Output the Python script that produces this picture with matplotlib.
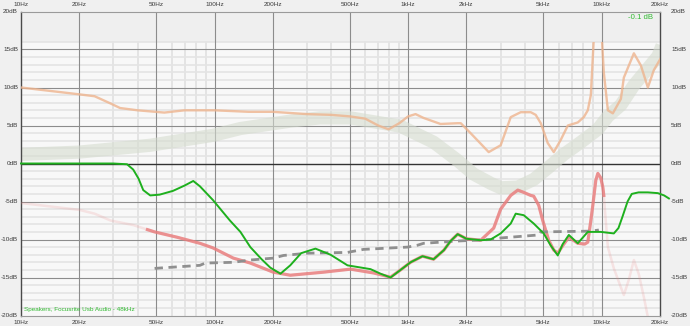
import numpy as np
import matplotlib
matplotlib.use("Agg")
import matplotlib.pyplot as plt
from matplotlib.patches import Rectangle

# ---------------- data ----------------
freq_ticks = [10, 20, 50, 100, 200, 500, 1000, 2000, 5000, 10000, 20000]
freq_labels = ["10Hz", "20Hz", "50Hz", "100Hz", "200Hz", "500Hz", "1kHz", "2kHz", "5kHz", "10kHz", "20kHz"]
db_ticks = [20, 15, 10, 5, 0, -5, -10, -15, -20]
db_labels = ["20dB", "15dB", "10dB", "5dB", "0dB", "-5dB", "-10dB", "-15dB", "-20dB"]

band_f = [10, 20, 46.5, 98, 136, 250, 350, 504, 914, 1353, 1802, 2180, 2668, 3006, 3684,
          4453, 5260, 6370, 7798, 9549, 10760, 12560, 14660, 17310, 19500, 20500]
band_db = [1.2, 1.5, 2.4, 3.7, 4.6, 5.6, 6.0, 6.0, 4.9, 2.8, 0.4, -1.4, -2.6, -3.2, -3.1,
           -2.1, -0.6, 1.2, 2.8, 4.5, 6.2, 7.7, 10.3, 12.5, 14.1, 15.5]

orange_f = [10, 20, 24, 29, 32.5, 40, 55, 70, 100, 150, 200, 300, 400, 500, 600, 700, 792,
            900, 1000, 1092, 1200, 1470, 1800, 1870, 2100, 2371, 2607, 3006, 3388, 3815,
            4297, 4560, 4844, 5260, 5652, 6140, 6683, 7521, 8080, 8472, 8785, 9101, 9400,
            9887, 10250, 10760, 11410, 12560, 13010, 14660, 15930, 17310, 18600, 20230]
orange_db = [10.0, 9.1, 8.85, 7.9, 7.3, 7.0, 6.7, 7.0, 7.0, 6.8, 6.8, 6.5, 6.4, 6.2, 5.9, 5.0, 4.5,
             5.3, 6.2, 6.5, 6.0, 5.2, 5.3, 5.3, 4.0, 2.6, 1.5, 2.4, 6.1, 6.75,
             6.75, 6.4, 5.3, 2.7, 1.5, 3.1, 5.0, 5.4, 6.1, 7.0, 9.0, 16.5, 19.0,
             19.0, 12.0, 7.0, 6.6, 8.5, 11.3, 14.5, 12.9, 10.0, 12.3, 13.9]

green_f = [10, 20, 30, 35.3, 38, 40.5, 42.8, 46.5, 52, 61, 70, 77.6, 84, 98, 120, 136, 153,
           175, 194, 219, 246, 280, 332, 397, 486, 639, 720, 811, 914, 1029, 1186, 1353,
           1530, 1657, 1802, 2000, 2371, 2668, 3006, 3388, 3594, 3953, 4453, 5014, 5455,
           5929, 6290, 6761, 7521, 8472, 9887, 11550, 12200, 12800, 13600, 14300, 15500,
           17310, 19500, 21000, 22240]
green_db = [0, 0, 0, -0.1, -0.8, -2.0, -3.5, -4.2, -4.1, -3.6, -2.9, -2.3, -3.0, -4.8, -7.5, -9.0, -11.0,
            -12.6, -13.7, -14.5, -13.4, -11.8, -11.2, -12.0, -13.4, -13.9, -14.5, -15.0, -14.0, -13.0, -12.2, -12.6,
            -11.4, -10.2, -9.3, -9.9, -10.1, -10.0, -9.2, -7.9, -6.6, -6.8, -7.9, -9.2, -10.8,
            -12.1, -10.6, -9.4, -10.5, -9.0, -9.0, -9.2, -8.5, -7.0, -5.0, -4.0, -3.8,
            -3.8, -3.9, -4.2, -4.6]

red_f = [10, 20, 24, 29, 38, 45, 49, 64, 84, 98, 125, 153, 201, 246, 365, 504, 662, 811,
         914, 1029, 1186, 1353, 1530, 1657, 1802, 2000, 2371, 2767, 3006, 3388, 3684,
         3953, 4297, 4453, 4727, 4958, 5324, 5652, 5929, 6290, 6761, 7521, 8170, 8472,
         8785, 8995, 9320, 9549, 9887, 10130, 10250, 10490, 10760, 11550, 12560, 13010,
         13800, 14660, 15560, 16510, 17310, 17930]
red_db = [-5.2, -6.1, -6.6, -7.5, -8.1, -8.7, -9.0, -9.7, -10.5, -11.1, -12.45, -13.1, -14.3, -14.7, -14.3, -13.9, -14.4, -14.95,
          -14.0, -13.0, -12.2, -12.6, -11.4, -10.2, -9.3, -9.9, -10.1, -8.5, -6.0, -4.2, -3.5,
          -3.8, -4.2, -4.3, -5.5, -7.5, -10.1, -11.4, -11.8, -10.8, -9.7, -10.5, -10.6, -10.35,
          -7.5, -5.5, -2.2, -1.3, -1.9, -3.1, -4.2, -7.5, -11.0, -13.8, -16.3, -17.3,
          -15.3, -12.7, -14.6, -17.6, -20.2, -21.8]

dash_f = [49, 84, 89.5, 125, 153, 201, 227, 302, 486, 588, 993, 1119, 1202, 1802, 2668,
          3006, 4727, 4844, 8785, 9661]
dash_db = [-13.8, -13.4, -13.1, -13.0, -12.7, -12.45, -12.1, -11.8, -11.7, -11.3, -11.0, -10.75,
           -10.5, -10.2, -10.0, -9.8, -9.4, -9.0, -8.9, -8.75]

red_solid_range = (45, 10250)
minor_freqs = [30, 40, 60, 70, 80, 90, 300, 400, 600, 700, 800, 900,
               3000, 4000, 6000, 7000, 8000, 9000]

# ---------------- figure ----------------
W, H = 690, 326
fig = plt.figure(figsize=(W / 100, H / 100), dpi=100)
fig.patch.set_facecolor("#f0f0f0")
L, R, T, B = 21, 660, 11.5, 315.5
ax = fig.add_axes([L / W, (H - B) / H, (R - L) / W, (B - T) / H])
ax.set_xscale("log")
ax.set_xlim(10, 20000)
ax.set_ylim(-20, 20)
ax.set_facecolor("#efefef")

TOP = 16
ax.add_patch(Rectangle((10, -20), 20000 - 10, TOP + 20, facecolor="#f8f8f8",
                       edgecolor="none", zorder=0))
# minor grid
for d in range(-19, TOP + 1):
    if d % 5 != 0 or d == TOP:
        ax.plot([10, 20000], [d, d], color="#e4e4e4", lw=1.2, zorder=0.5)
for f in minor_freqs:
    ax.plot([f, f], [-20, TOP], color="#e4e4e4", lw=1.4, zorder=0.5)
# major grid
for d in [-15, -10, -5, 5, 10, 15]:
    ax.plot([10, 20000], [d, d], color="#8c8c8c", lw=0.8, zorder=1)
for f in freq_ticks[1:-1]:
    ax.plot([f, f], [-20, 20], color="#8c8c8c", lw=0.8, zorder=1)
ax.plot([10, 20000], [0, 0], color="#333333", lw=1.0, zorder=1)

clip = Rectangle((10, -20), 20000 - 10, TOP + 20, transform=ax.transData,
                 facecolor="none", edgecolor="none")
ax.add_patch(clip)

ln, = ax.plot(band_f, band_db, color="#d5dccf", lw=9.5, alpha=0.6,
              solid_capstyle="butt", solid_joinstyle="round", zorder=2)
ln.set_clip_path(clip)

ln, = ax.plot(orange_f, orange_db, color="#eeb48e", lw=1.7, alpha=0.8, zorder=3,
              solid_joinstyle="round")
ln.set_clip_path(clip)

rf = np.array(red_f)
rd = np.array(red_db)
ax.plot(rf, rd, color="#eb8a8a", lw=1.8, alpha=0.2, zorder=3, solid_joinstyle="round")
m = (rf >= red_solid_range[0]) & (rf <= red_solid_range[1])
ax.plot(rf[m], rd[m], color="#e97c7c", lw=2.3, alpha=0.8, zorder=3.5, solid_joinstyle="round")

ax.plot(dash_f, dash_db, color="#8f8f8f", lw=2.0, dashes=(3.0, 2.0), zorder=4)

ax.plot(green_f, green_db, color="#1eb01e", lw=1.4, zorder=5, clip_on=False,
        solid_joinstyle="round")

# frame
for s in ["left", "right"]:
    ax.spines[s].set_color("#4a4a4a")
    ax.spines[s].set_linewidth(1.0)
for s in ["top", "bottom"]:
    ax.spines[s].set_color("#9a9a9a")
    ax.spines[s].set_linewidth(0.8)
ax.set_xticks([])
ax.set_yticks([])
ax.minorticks_off()

fs = 4.6
tc = "#3a3a3a"
fam = ["Liberation Sans", "DejaVu Sans"]
for f, lab in zip(freq_ticks, freq_labels):
    xf = ax.transAxes.inverted().transform(ax.transData.transform((f, 0)))[0]
    ax.text(xf, 1 + 6.5 / (B - T), lab, transform=ax.transAxes, ha="center", va="center",
            fontsize=fs, color=tc, family=fam)
    ax.text(xf, -6.5 / (B - T), lab, transform=ax.transAxes, ha="center", va="center",
            fontsize=fs, color=tc, family=fam)
for d, lab in zip(db_ticks, db_labels):
    yf = (d + 20) / 40
    ax.text(-3 / (R - L), yf, lab, transform=ax.transAxes, ha="right", va="center",
            fontsize=fs, color=tc, family=fam)
    ax.text(1 + 11 / (R - L), yf, lab, transform=ax.transAxes, ha="left", va="center",
            fontsize=fs, color=tc, family=fam)

ax.text(1 - 20 / (R - L), 1 - 6 / (B - T), "-0.1 dB", transform=ax.transAxes,
        ha="center", va="center", fontsize=5.6, color="#33bb33", family=fam)
ax.text(3 / (R - L), 6.5 / (B - T), "Speakers, Focusrite Usb Audio - 48kHz",
        transform=ax.transAxes, ha="left", va="center", fontsize=4.6, color="#33bb33",
        family=fam)

fig.savefig("out.png", dpi=100, facecolor=fig.get_facecolor())
